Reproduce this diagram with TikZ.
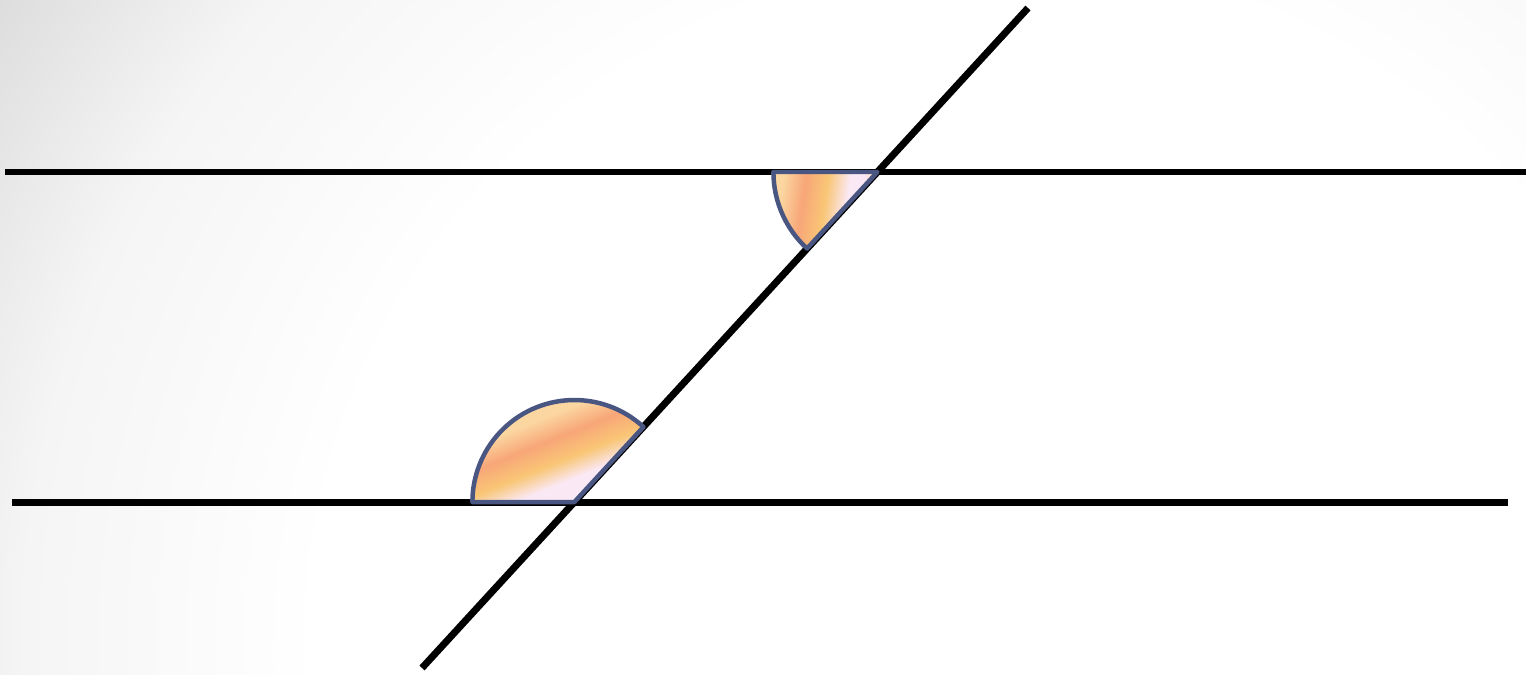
\documentclass[tikz,border=0pt]{standalone}
\usetikzlibrary{calc}
\definecolor{wedgeedge}{RGB}{74,86,130}
\definecolor{wpeach}{RGB}{251,214,160}
\definecolor{worange}{RGB}{248,166,120}
\definecolor{wyellow}{RGB}{249,198,118}
\definecolor{wpink}{RGB}{250,232,244}
\definecolor{bggray}{RGB}{218,218,218}
\definecolor{bgmid}{RGB}{245,245,245}
\pgfdeclarehorizontalshading{wedgeband}{100bp}{color(0bp)=(wpeach); color(27bp)=(wpeach); color(38bp)=(worange); color(49bp)=(wyellow); color(60bp)=(wpink); color(67bp)=(wpink); color(76bp)=(wyellow); color(100bp)=(wyellow)}
\pgfdeclarehorizontalshading{wedgebandlow}{100bp}{color(0bp)=(wpeach); color(38bp)=(wpeach); color(47bp)=(worange); color(56bp)=(wyellow); color(64bp)=(wpink); color(100bp)=(wpink)}
\pgfdeclareradialshading{bgglow}{\pgfpointorigin}{color(0bp)=(white); color(14bp)=(white); color(20bp)=(bgmid); color(25bp)=(bggray); color(50bp)=(bggray)}

\begin{document}
\begin{tikzpicture}[
  x=0.02cm, y=0.02cm,
  line/.style={line width=0.14cm, black},
  wedge/.style={draw=wedgeedge, line width=0.09cm, line join=round}
]
\useasboundingbox (0,0) rectangle (1526,674);
\begin{scope}
  \clip (0,0) rectangle (1526,674);
  \shade[shading=bgglow] (1000,24) circle (1220);
\end{scope}

% lines
\coordinate (topL) at (5,502);
\coordinate (topR) at (1526,502);
\coordinate (botL) at (12,172);
\coordinate (botR) at (1508,172);
\coordinate (tLow) at (422,6);
\coordinate (tHigh) at (1028,666);
\coordinate (X1) at (877.4,502);
\coordinate (X2) at (574.4,172);

\draw[line] (topL) -- (topR);
\draw[line] (botL) -- (botR);
\draw[line] (tLow) -- (tHigh);

% angles
\path[wedge, shading=wedgeband, shading angle=-8] (X1) -- +(180:2.08cm) arc (180:227.4:2.08cm) -- cycle;
\path[wedge, shading=wedgebandlow, shading angle=-68] (X2) -- +(47.4:2.04cm) arc (47.4:180:2.04cm) -- cycle;
\end{tikzpicture}
\end{document}
